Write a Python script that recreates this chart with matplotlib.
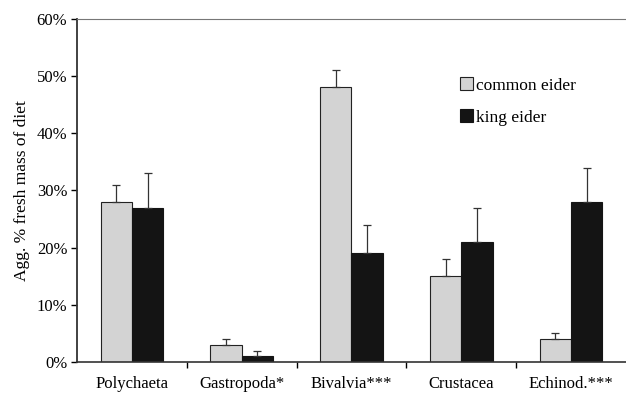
import numpy as np
import matplotlib.pyplot as plt
from matplotlib.ticker import PercentFormatter

categories = ["Polychaeta", "Gastropoda*", "Bivalvia***", "Crustacea", "Echinod.***"]
common = [28, 3, 48, 15, 4]
common_err = [3, 1, 3, 3, 1]
king = [27, 1, 19, 21, 28]
king_err = [6, 1, 5, 6, 6]

plt.rcParams['font.family'] = ['Liberation Serif', 'DejaVu Serif']

fig = plt.figure(figsize=(6.26, 3.93), dpi=100)
ax = fig.add_axes([0.123, 0.079, 0.877, 0.873])

x = np.arange(len(categories))
w = 0.285
err_kw = dict(ecolor="#333333", elinewidth=0.9, capsize=2.8, capthick=0.9)
ax.bar(x - w / 2, common, w, yerr=[np.zeros(5), common_err], color="#d3d3d3",
       edgecolor="#222222", linewidth=0.8, error_kw=err_kw, label="common eider")
ax.bar(x + w / 2, king, w, yerr=[np.zeros(5), king_err], color="#141414",
       edgecolor="#141414", linewidth=0.8, error_kw=err_kw, label="king eider")

ax.set_xlim(-0.5, 4.5)
ax.set_ylim(0, 60)
ax.set_yticks(range(0, 61, 10))
ax.yaxis.set_major_formatter(PercentFormatter(decimals=0))
ax.set_xticks(x)
ax.set_xticklabels(categories)
ax.set_xticks(np.arange(0.5, 4.5, 1), minor=True)
ax.tick_params(axis="x", which="major", length=0, pad=10, labelsize=12)
ax.tick_params(axis="x", which="minor", length=4, direction="out", width=1)
ax.tick_params(axis="y", length=4, width=1, labelsize=12, pad=3)
ax.set_ylabel("Agg. % fresh mass of diet", fontsize=12.5, labelpad=5)

ax.spines["right"].set_visible(False)
ax.spines["top"].set_color("#777777")
ax.spines["left"].set_linewidth(1.3)
ax.spines["left"].set_color("#333333")
ax.spines["bottom"].set_linewidth(1.2)
ax.spines["bottom"].set_color("#333333")

ax.legend(loc="upper left", bbox_to_anchor=(0.67, 0.875), frameon=False,
          fontsize=12.5, handlelength=0.75, handleheight=0.75, handletextpad=0.15,
          labelspacing=0.9)

fig.savefig("out.png", dpi=100)
